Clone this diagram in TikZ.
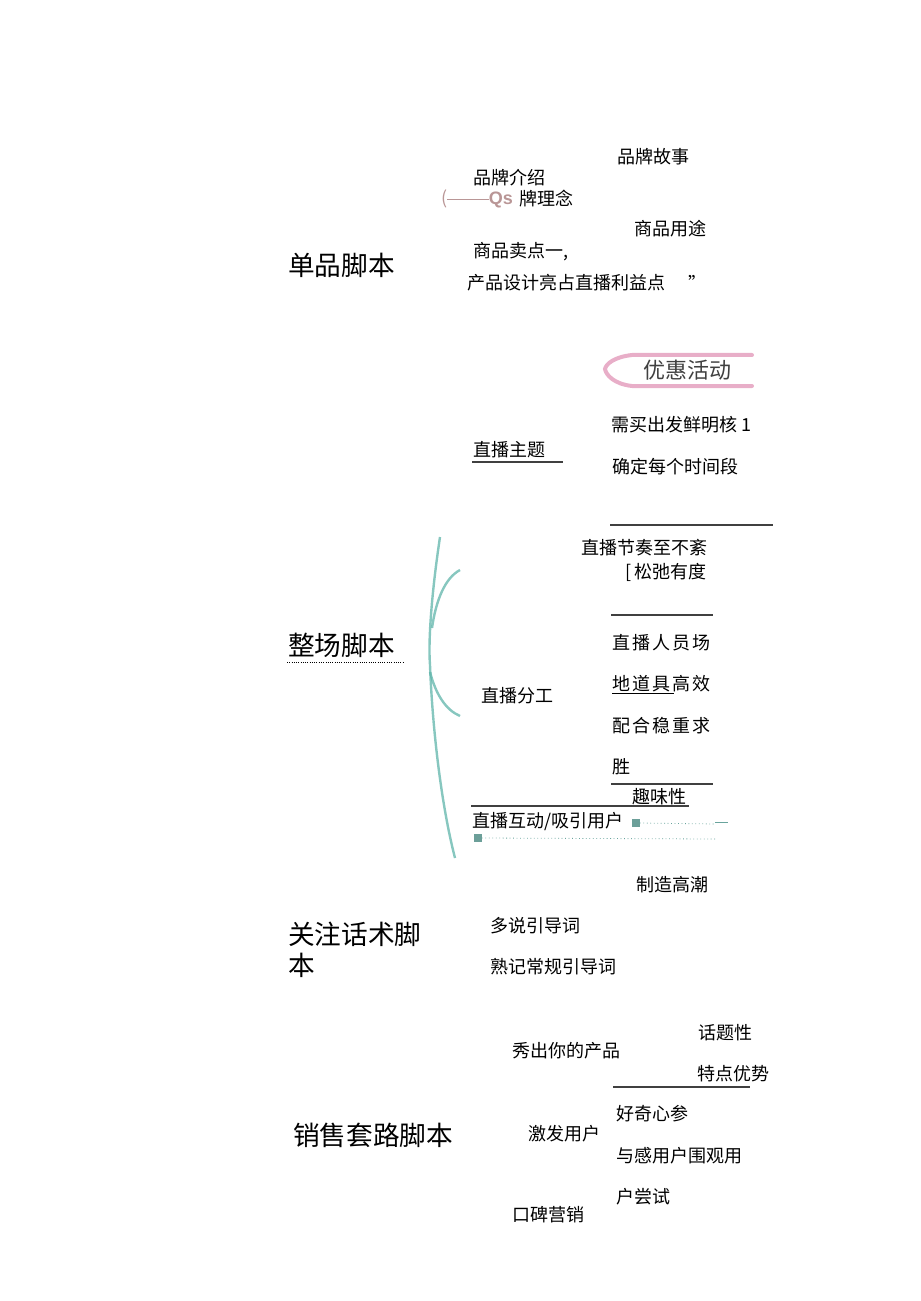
\documentclass[tikz,border=0pt]{standalone}
\usepackage{fontspec}
\setmainfont{Noto Sans CJK SC}
\newfontfamily\cjkw[LetterSpace=12]{Noto Sans CJK SC}
\newfontfamily\latinb{Liberation Sans}
\definecolor{teal1}{RGB}{95,180,170}
\definecolor{pinkb}{RGB}{228,160,190}
\definecolor{pgray}{RGB}{185,150,150}
\begin{document}
\begin{tikzpicture}[x=0.75pt,y=-0.75pt,
  t/.style={anchor=west,inner sep=0pt,font=\fontsize{13.5}{15}\selectfont},
  tw/.style={anchor=west,inner sep=0pt,font=\fontsize{13.5}{15}\selectfont\cjkw},
  ttl/.style={anchor=west,inner sep=0pt,font=\fontsize{20}{23}\selectfont},
  rule/.style={draw=black!75,line width=0.8pt},
  dotl/.style={draw=teal1!70!gray,line width=0.6pt,dotted},
  curve/.style={draw=teal1,line width=1.8pt,opacity=0.75}]
\useasboundingbox (0,0) rectangle (920,1301);
% ---- 单品脚本
\node[ttl] (s1) at (288,265) {单品脚本};
\node[t] (a1) at (617,157) {品牌故事};
\node[t] (a2) at (473,178) {品牌介绍};
\node[t,text=pgray] (a3p) at (441,199) {(\rule[0.28em]{2.3em}{0.5pt}\latinb\bfseries Qs};
\node[t] (a3) at (519,199) {牌理念};
\node[t] (a4) at (634,229) {商品用途};
\node[t] (a5) at (473,252) {商品卖点一,};
\node[t] (a6) at (467,283) {产品设计亮占直播利益点};
\node[t] (a6q) at (688,283) {”};
% ---- 优惠活动
\coordinate (yh1) at (752,355);
\coordinate (yh2) at (752,386);
\draw[draw=pinkb,line width=3pt,line cap=round,opacity=0.85] (yh1) -- (632,355) .. controls (614,357) and (606,364) .. (605,369) .. controls (606,375) and (614,384) .. (632,386) -- (yh2);
\node[t,font=\fontsize{16.5}{18}\selectfont,text=black!75] (yh) at (643,370) {优惠活动};
\node[t] (b1) at (611,425) {需买出发鲜明核 1};
\node[t] (b2) at (473,450) {直播主题};
\draw[rule] (472,462) -- (563,462);
\node[t] (b3) at (612,467) {确定每个时间段};
\draw[rule] (610,525) -- (773,525);
% ---- 整场脚本
\node[ttl] (s2) at (288,645) {整场脚本};
\draw[draw=black,line width=0.7pt,densely dotted] (287,662) -- (404,662);
\draw[curve] (440,537) .. controls (432,590) and (428,640) .. (430,665) .. controls (432,720) and (440,800) .. (455,858);
\draw[curve] (460,570) .. controls (445,578) and (436,600) .. (432,628);
\draw[curve] (430,672) .. controls (436,695) and (446,710) .. (460,716);
\node[t] (c1) at (581,548) {直播节奏至不紊};
\node[t] (c2) at (625,572) {[\,松弛有度};
\draw[rule] (611,615) -- (713,615);
\node[tw] (c3) at (612,643) {直播人员场};
\node[tw] (c4) at (612,684) {地道具高效};
\draw[draw=black,line width=0.7pt] (612,693) -- (674,693);
\node[tw] (c5) at (612,726) {配合稳重求};
\node[t] (c6) at (612,767) {胜};
\node[t] (c0) at (481,696) {直播分工};
\draw[rule] (611,784) -- (713,784);
\node[t] (c7) at (632,797) {趣味性};
\draw[rule] (471,806) -- (689,806);
\node[t] (c8) at (472,821) {直播互动/吸引用户};
\node[fill=teal1!60!gray,minimum size=5.5pt,inner sep=0pt] (sq1) at (636,823) {};
\draw[dotl] (sq1.east) -- (715,824);
\draw[draw=teal1!70!gray,line width=0.6pt] (715,822) -- (728,822);
\node[fill=teal1!60!gray,minimum size=5.5pt,inner sep=0pt] (sq2) at (478,838) {};
\draw[dotl] (sq2.east) -- (715,839);
\node[t] (c9) at (636,885) {制造高潮};
% ---- 关注话术脚本
\node[ttl,align=left] (s3) at (288,950) {关注话术脚\\本};
\node[t] (d1) at (490,926) {多说引导词};
\node[t] (d2) at (490,967) {熟记常规引导词};
% ---- 销售套路脚本
\node[ttl] (s4) at (293,1135) {销售套路脚本};
\node[t] (e1) at (698,1033) {话题性};
\node[t] (e2) at (512,1051) {秀出你的产品};
\node[t] (e3) at (697,1074) {特点优势};
\draw[rule] (613,1087) -- (750,1087);
\node[t] (e4) at (616,1114) {好奇心参};
\node[t] (e5) at (528,1134) {激发用户};
\node[t] (e6) at (616,1156) {与感用户围观用};
\node[t] (e7) at (616,1197) {户尝试};
\node[t] (e8) at (512,1215) {口碑营销};
\end{tikzpicture}
\end{document}
